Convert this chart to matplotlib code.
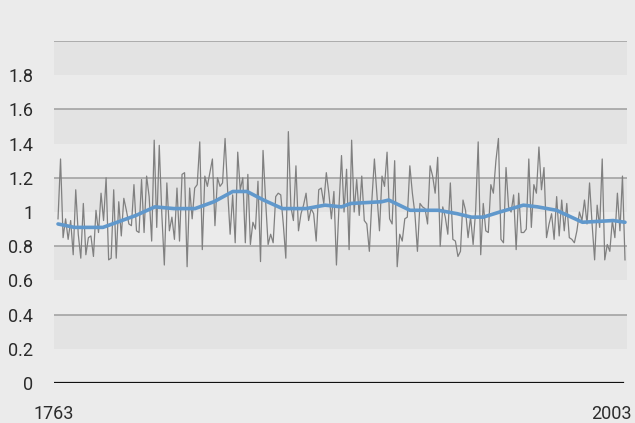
import numpy as np
import matplotlib
matplotlib.use("Agg")
import matplotlib.pyplot as plt
import matplotlib.transforms as mtransforms

# yearly index values (1763 .. 2003)
annual_values = [
    0.96, 1.31, 0.85, 0.96, 0.84, 0.95, 0.75, 1.13, 0.87, 0.73,
    1.05, 0.75, 0.85, 0.86, 0.74, 1.01, 0.88, 1.11, 0.95, 1.20,
    0.72, 0.73, 1.13, 0.73, 1.06, 0.86, 1.08, 1.01, 0.93, 0.92,
    1.16, 0.89, 0.88, 1.19, 0.88, 1.21, 1.09, 0.83, 1.42, 0.91,
    1.39, 0.99, 0.69, 1.17, 0.89, 0.97, 0.84, 1.14, 0.83,
    1.22, 1.23, 0.68, 1.14, 0.96, 1.14, 1.16, 1.41, 0.78, 1.21,
    1.15, 1.23, 1.31, 0.92, 1.20, 1.15, 1.17, 1.43, 1.13, 0.87,
    1.10, 0.82, 1.35, 1.13, 1.20, 0.82, 1.22, 0.81, 0.94, 0.90,
    1.18, 0.71, 1.36, 1.07, 0.81, 0.87, 0.82, 1.09, 1.11, 1.10,
    0.93, 0.73, 1.47, 1.03, 0.95, 1.27, 0.89, 0.99, 1.04, 1.11,
    0.95, 1.02, 0.99, 0.83, 1.13, 1.14,
    1.05, 1.23, 1.11, 0.96, 1.12, 0.69, 1.03, 1.33, 1.00, 1.25,
    0.78, 1.42, 1.00, 1.19, 0.98, 1.21, 0.95, 0.93, 0.77, 1.07,
    1.31, 1.10, 0.89, 1.21, 1.15, 1.35, 0.96, 0.93, 1.30, 0.68,
    0.87, 0.83, 0.96, 0.97, 1.27, 1.11, 0.99, 0.77, 1.05, 1.03,
    1.02, 0.93, 1.27, 1.21, 1.11, 1.32, 0.80, 1.03, 0.97, 0.87,
    1.17, 0.84, 0.83, 0.74, 0.77, 1.07, 1.01, 0.85,
    0.97, 0.81, 1.01, 1.41, 0.75, 1.05, 0.89, 0.88, 1.16, 1.11,
    1.30, 1.43, 0.84, 0.82, 1.26, 1.03, 1.00, 1.10, 0.78, 1.11,
    0.88, 0.88, 0.90, 1.31, 0.91, 1.16, 1.11, 1.38, 1.13, 1.26,
    0.85, 0.93, 0.99, 0.84, 1.09, 0.86, 1.07, 0.89, 1.05, 0.85,
    0.84, 0.82, 0.89, 1.00, 0.95, 1.07, 0.93, 1.17, 0.93, 0.72,
    1.04, 0.91, 1.31, 0.72, 0.81, 0.77, 0.95, 0.85, 1.11, 0.89,
    1.21, 0.72,
]

# smoothed trend
trend_years = [1763, 1770, 1782, 1790, 1796, 1804, 1812, 1821, 1829, 1837,
               1843, 1850, 1858, 1868, 1876, 1883, 1887, 1900, 1903, 1912,
               1924, 1932, 1938, 1943, 1950, 1960, 1966, 1974, 1985, 1998,
               2003]
trend_values = [0.93, 0.91, 0.91, 0.95, 0.98, 1.03, 1.02, 1.02, 1.06, 1.12,
                1.12, 1.07, 1.02, 1.02, 1.04, 1.03, 1.05, 1.06, 1.07, 1.01,
                1.01, 0.99, 0.97, 0.97, 1.00, 1.04, 1.03, 1.01, 0.94, 0.95,
                0.94]

ytick_values = [0, 0.2, 0.4, 0.6, 0.8, 1.0, 1.2, 1.4, 1.6, 1.8]
ytick_labels = ["0", "0.2", "0.4", "0.6", "0.8", "1", "1.2", "1.4", "1.6", "1.8"]
xtick_years = [1763, 2003]

years = np.linspace(1763, 2003, len(annual_values))

plt.rcParams['font.family'] = ['Roboto', 'DejaVu Sans']

bg = '#ebebeb'
fig = plt.figure(figsize=(6.35, 4.23), dpi=100, facecolor=bg)
ax = fig.add_axes([54 / 635, 40 / 423, 573 / 635, 342 / 423])
ax.set_facecolor(bg)

ax.set_xlim(1761.3, 2003.85)
ax.set_ylim(0, 2.0)

# alternating bands below each gridline
for top in [2.0, 1.6, 1.2, 0.8, 0.4]:
    ax.axhspan(top - 0.2, top, color='#e3e3e3', lw=0, zorder=0)
for g in [0.4, 0.8, 1.2, 1.6, 2.0]:
    ax.axhline(g, color='#a3a3a3', lw=1.2, zorder=1)
ax.axhline(0, xmin=0.002, xmax=0.993, color='#111111', lw=1.6, zorder=3)

ax.plot(years, annual_values, color='#808080', lw=0.9, zorder=2)
ax.plot(trend_years, trend_values, color='#6098cc', lw=2.6,
        solid_capstyle='round', solid_joinstyle='round', zorder=4)

for s in ax.spines.values():
    s.set_visible(False)

ax.set_yticks(ytick_values)
ax.set_yticklabels(ytick_labels)
ax.set_xticks(xtick_years)
ax.set_xticklabels([str(y) for y in xtick_years])
ax.tick_params(axis='y', length=0, pad=15, labelsize=13, labelcolor='#2b2b2b')
ax.tick_params(axis='x', length=0, pad=16, labelsize=13, labelcolor='#2b2b2b')

labels = ax.get_xticklabels()
labels[0].set_transform(labels[0].get_transform() +
                        mtransforms.ScaledTranslation(-4 / 100, 0, fig.dpi_scale_trans))
labels[1].set_horizontalalignment('right')
labels[1].set_transform(labels[1].get_transform() +
                        mtransforms.ScaledTranslation(7 / 100, 0, fig.dpi_scale_trans))

fig.savefig('out.png', dpi=100, facecolor=bg)
